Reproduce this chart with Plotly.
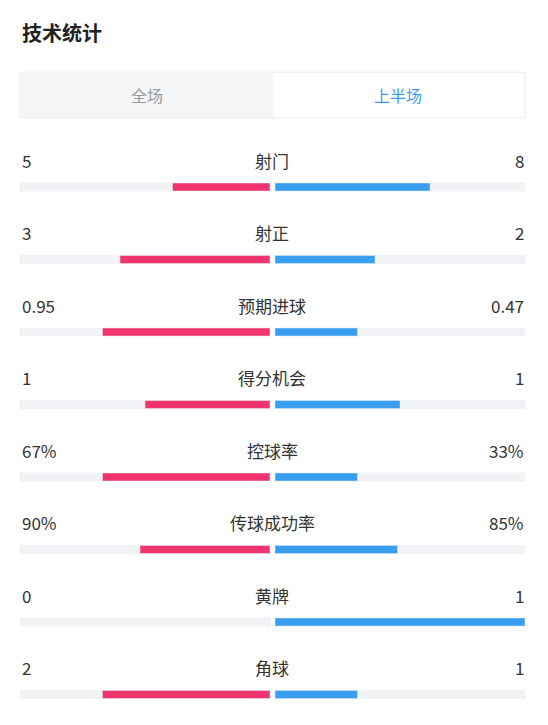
import plotly.graph_objects as go

labels = ["射门", "射正", "预期进球", "得分机会", "控球率", "传球成功率", "黄牌", "角球"]
left_text = ["5", "3", "0.95", "1", "67%", "90%", "0", "2"]
right_text = ["8", "2", "0.47", "1", "33%", "85%", "1", "1"]
# bar length as share of the half track
left_share = [0.39, 0.60, 0.67, 0.50, 0.67, 0.52, 0.0, 0.67]
right_share = [0.62, 0.40, 0.33, 0.50, 0.33, 0.49, 1.0, 0.33]

W, H = 548, 725
off = 8  # page body margin
cx_l, cx_r, half = 270, 275, 250
row_y = [160 + i * 72.5 for i in range(len(labels))]
bar_y = [y + 27 for y in row_y]

fig = go.Figure()
font = "Noto Sans CJK SC"

# grey tracks
fig.add_trace(go.Bar(y=bar_y, x=[half] * 8, base=[20] * 8, orientation="h", width=8,
                     marker_color="#f2f3f5", hoverinfo="skip"))
fig.add_trace(go.Bar(y=bar_y, x=[half] * 8, base=[cx_r] * 8, orientation="h", width=8,
                     marker_color="#f2f3f5", hoverinfo="skip"))
lw = [s * half for s in left_share]
rw = [s * half for s in right_share]
fig.add_trace(go.Bar(y=bar_y, x=lw, base=[cx_l - w for w in lw], orientation="h", width=8,
                     marker_color="#f0346e"))
fig.add_trace(go.Bar(y=bar_y, x=rw, base=[cx_r] * 8, orientation="h", width=8,
                     marker_color="#3a9ef0"))

ann = [dict(x=20, y=32, text="<b>技术统计</b>", xanchor="left", showarrow=False,
            font=dict(size=20, color="#222", family=font)),
       dict(x=147, y=95, text="全场", showarrow=False, font=dict(size=16, color="#999", family=font)),
       dict(x=398, y=95, text="上半场", showarrow=False, font=dict(size=16, color="#3a9ef0", family=font))]
for i in range(len(labels)):
    ann.append(dict(x=272, y=row_y[i], text=labels[i], showarrow=False,
                    font=dict(size=17, color="#333", family=font)))
    ann.append(dict(x=20, y=row_y[i], text=left_text[i], xanchor="left", showarrow=False,
                    font=dict(size=17, color="#333", family=font)))
    ann.append(dict(x=526, y=row_y[i], text=right_text[i], xanchor="right", showarrow=False,
                    font=dict(size=17, color="#333", family=font)))

shapes = [dict(type="rect", x0=20, x1=525, y0=72, y1=118, fillcolor="#f5f6f8",
               line=dict(color="#eceef0", width=1), layer="below"),
          dict(type="rect", x0=273, x1=524, y0=73, y1=117, fillcolor="white",
               line=dict(width=0), layer="below")]

fig.update_layout(width=W, height=H, margin=dict(l=0, r=0, t=0, b=0),
                  paper_bgcolor="white", plot_bgcolor="white", showlegend=False,
                  barmode="overlay", annotations=ann, shapes=shapes,
                  xaxis=dict(range=[off, W + off], visible=False, fixedrange=True),
                  yaxis=dict(range=[H + off, off], visible=False, fixedrange=True))
fig.write_html("out.html")
